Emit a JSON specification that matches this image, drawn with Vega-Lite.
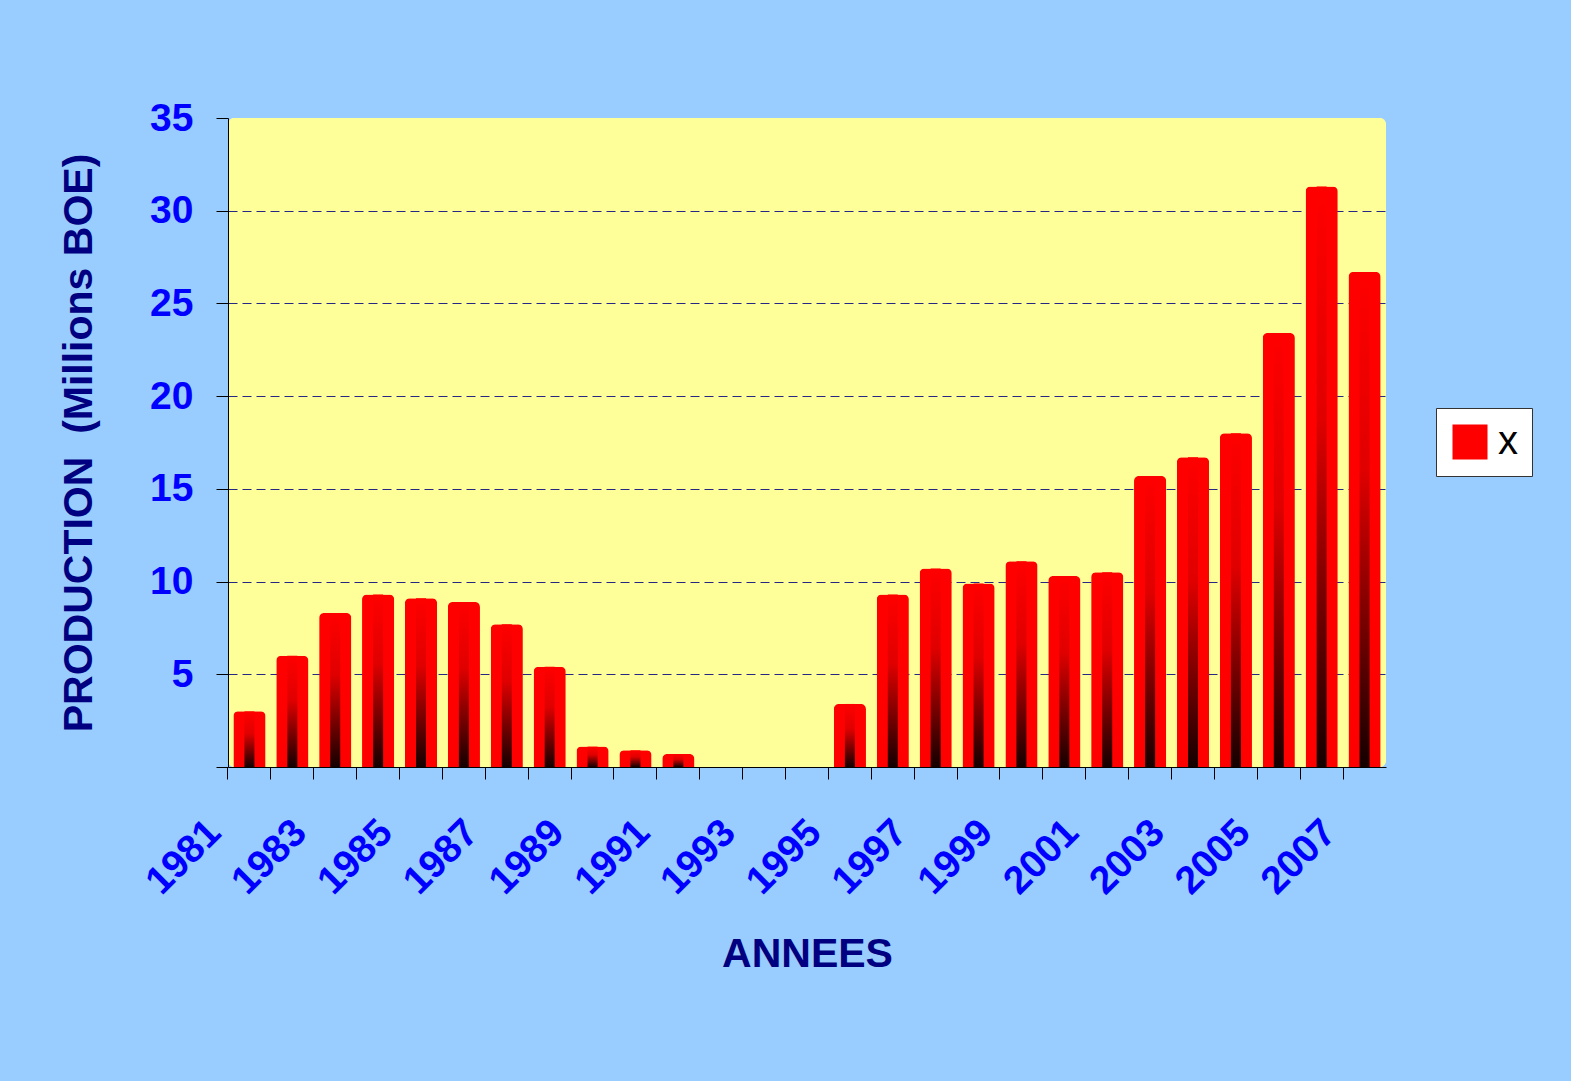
{
  "$schema": "https://vega.github.io/schema/vega-lite/v6.json",
  "width": 1158,
  "height": 649,
  "autosize": {"type": "none"},
  "padding": {"left": 228, "top": 118, "right": 185, "bottom": 314},
  "background": "#99ccff",
  "config": {
    "view": {"fill": "#ffff99", "stroke": null, "cornerRadius": 6},
    "font": "Liberation Sans"
  },
  "data": {
    "values": [
      {"year": 1981, "production": 3.0},
      {"year": 1982, "production": 6.0},
      {"year": 1983, "production": 8.3},
      {"year": 1984, "production": 9.3},
      {"year": 1985, "production": 9.1},
      {"year": 1986, "production": 8.9},
      {"year": 1987, "production": 7.7},
      {"year": 1988, "production": 5.4},
      {"year": 1989, "production": 1.1},
      {"year": 1990, "production": 0.9},
      {"year": 1991, "production": 0.7},
      {"year": 1992, "production": 0},
      {"year": 1993, "production": 0},
      {"year": 1994, "production": 0},
      {"year": 1995, "production": 3.4},
      {"year": 1996, "production": 9.3},
      {"year": 1997, "production": 10.7},
      {"year": 1998, "production": 9.9},
      {"year": 1999, "production": 11.1},
      {"year": 2000, "production": 10.3},
      {"year": 2001, "production": 10.5},
      {"year": 2002, "production": 15.7},
      {"year": 2003, "production": 16.7},
      {"year": 2004, "production": 18.0},
      {"year": 2005, "production": 23.4},
      {"year": 2006, "production": 31.3},
      {"year": 2007, "production": 26.7}
    ]
  },
  "encoding": {
    "x": {
      "field": "year",
      "type": "ordinal",
      "scale": {"paddingInner": 0.25, "paddingOuter": 0.125},
      "axis": {
        "title": "ANNEES",
        "titleFontSize": 41,
        "titleColor": "#000080",
        "titleFontWeight": "bold",
        "titlePadding": 33,
        "labelAngle": -45,
        "labelAlign": "right",
        "labelBaseline": "middle",
        "labelFontSize": 39,
        "labelFontWeight": "bold",
        "labelColor": "#0000ff",
        "labelPadding": 47,
        "labelOffset": -35,
        "labelOverlap": false,
        "labelFlush": false,
        "labelExpr": "(toNumber(datum.value) - 1981) % 2 == 0 ? datum.label : ''",
        "tickSize": 12,
        "tickColor": "black",
        "domainColor": "black",
        "bandPosition": -0.1667
      }
    },
    "y": {
      "field": "production",
      "type": "quantitative",
      "scale": {"domain": [0, 35], "nice": false},
      "axis": {
        "title": "PRODUCTION\u00a0 (Millions BOE)",
        "titleFontSize": 41,
        "titleColor": "#000080",
        "titleFontWeight": "bold",
        "titlePadding": 58,
        "titleBaseline": "alphabetic",
        "values": [0, 5, 10, 15, 20, 25, 30, 35],
        "labelExpr": "datum.value == 0 ? '' : datum.label",
        "labelFontSize": 39,
        "labelFontWeight": "bold",
        "labelColor": "#0000ff",
        "labelPadding": 23,
        "tickSize": 12,
        "tickColor": "black",
        "domainColor": "black",
        "grid": true,
        "gridColor": "#000080",
        "gridDash": [9, 5],
        "gridOpacity": {"condition": {"test": "datum.value == 0 || datum.value == 35", "value": 0}, "value": 0.85}
      }
    }
  },
  "layer": [
    {
      "mark": {"type": "bar", "cornerRadiusTopLeft": 5, "cornerRadiusTopRight": 5},
      "encoding": {
        "color": {
          "datum": "x",
          "scale": {"range": ["#ff0000"]},
          "legend": {
            "title": null,
            "orient": "none",
            "legendX": 1208,
            "legendY": 290,
            "fillColor": "white",
            "strokeColor": "#333333",
            "padding": 14,
            "symbolType": "square",
            "symbolSize": 1225,
            "symbolStrokeWidth": 0,
            "labelFontSize": 40,
            "labelColor": "black",
            "labelOffset": 8
          }
        }
      }
    },
    {
      "transform": [{"filter": "datum.production > 0"}],
      "mark": {
        "type": "bar",
        "width": 10,
        "y2Offset": -5,
        "fill": {"gradient": "linear", "x1": 0, "y1": 0, "x2": 0, "y2": 1, "stops": [{"offset": 0, "color": "#ff0000"}, {"offset": 0.4, "color": "#e00000"}, {"offset": 1, "color": "#150000"}]}
      }
    }
  ]
}
